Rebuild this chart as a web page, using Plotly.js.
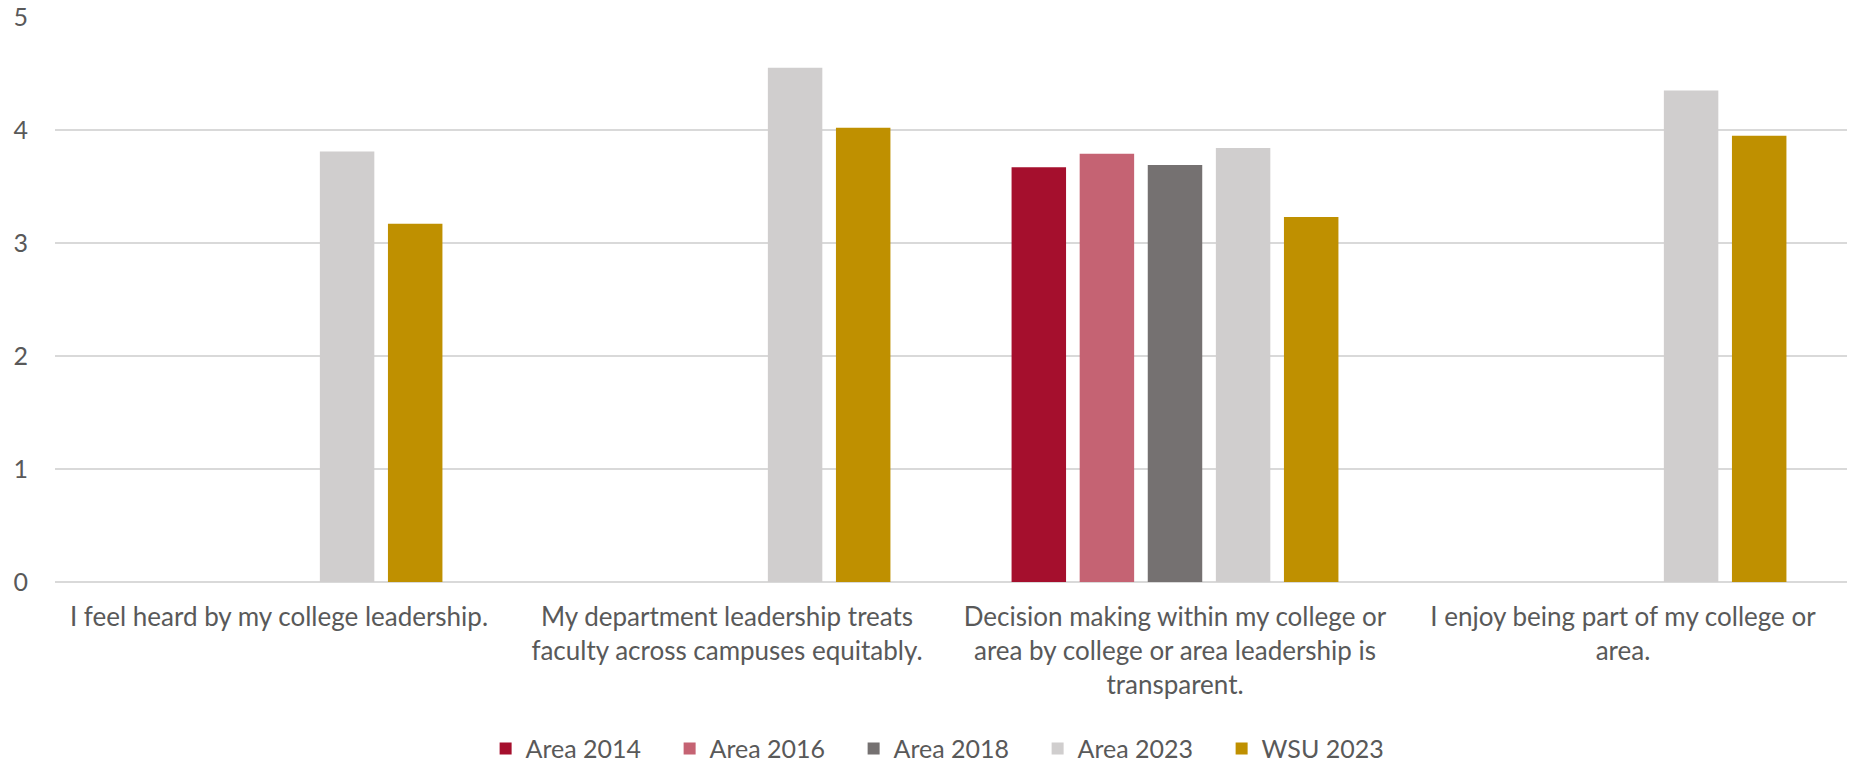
<!DOCTYPE html>
<html>
<head>
<meta charset="utf-8">
<script src="https://cdn.plot.ly/plotly-3.0.1.min.js"></script>
<style>
html,body{margin:0;padding:0;background:#fff;}
#chart{width:1853px;height:764px;}
</style>
</head>
<body>
<div id="chart"></div>
<script>
const categories = [
  "I feel heard by my college leadership.",
  "My department leadership treats<br>faculty across campuses equitably.",
  "Decision making within my college or<br>area by college or area leadership is<br>transparent.",
  "I enjoy being part of my college or<br>area."
];
const seriesNames = ["Area 2014", "Area 2016", "Area 2018", "Area 2023", "WSU 2023"];
const area2014 = [null, null, 3.67, null];
const area2016 = [null, null, 3.79, null];
const area2018 = [null, null, 3.69, null];
const area2023 = [3.81, 4.55, 3.84, 4.35];
const wsu2023  = [3.17, 4.02, 3.23, 3.95];
const yTicks = [0, 1, 2, 3, 4, 5];

const seriesValues = [area2014, area2016, area2018, area2023, wsu2023];
const colors = ["#A50F2D", "#C56373", "#757171", "#D0CECE", "#BF9000"];

const traces = seriesNames.map((name, i) => ({
  type: "bar",
  name: name,
  x: categories,
  y: seriesValues[i],
  marker: {color: colors[i]},
  hoverinfo: "y+name"
}));

const fam = "Lato, 'Open Sans', sans-serif";

const layout = {
  width: 1853,
  height: 764,
  margin: {l: 55, r: 6, t: 17, b: 182},
  paper_bgcolor: "#fff",
  plot_bgcolor: "#fff",
  font: {family: fam, color: "#595959", size: 25},
  barmode: "group",
  bargap: 0.24,
  bargroupgap: 0.2,
  showlegend: true,
  legend: {
    orientation: "h",
    xref: "paper",
    x: 0.497, xanchor: "center",
    yref: "container",
    y: 0.02, yanchor: "middle",
    font: {family: fam, color: "#595959", size: 25},
    itemwidth: 30,
    entrywidth: 139,
    tracegroupgap: 0
  },
  xaxis: {
    type: "category",
    showgrid: false,
    showline: false,
    zeroline: false,
    ticks: "",
    ticklabelstandoff: 17,
    tickfont: {family: fam, color: "#595959", size: 26},
    automargin: false
  },
  yaxis: {
    range: [0, 5],
    tickvals: yTicks,
    ticktext: yTicks.map(String),
    showgrid: true,
    gridcolor: "#D9D9D9",
    gridwidth: 1.5,
    zeroline: true,
    zerolinecolor: "#D9D9D9",
    zerolinewidth: 1.5,
    showline: false,
    ticks: "",
    ticklabelstandoff: 26,
    tickfont: {family: fam, color: "#595959", size: 25},
    automargin: false
  }
};

Plotly.newPlot("chart", traces, layout, {displayModeBar: false, responsive: false});
</script>
</body>
</html>
